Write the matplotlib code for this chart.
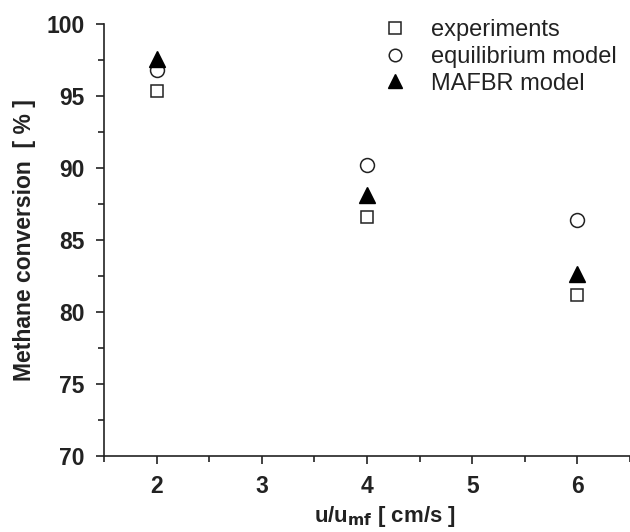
import matplotlib
matplotlib.use("Agg")
import matplotlib.pyplot as plt
from matplotlib.ticker import MultipleLocator

plt.rcParams['font.family'] = ['Liberation Sans', 'DejaVu Sans']

# velocity ratios and methane conversion (%)
u_ratio = [2, 4, 6]
experiments = [95.35, 86.6, 81.2]
equilibrium = [96.8, 90.2, 86.4]
mafbr = [97.55, 88.1, 82.6]

ink = "#222222"

fig = plt.figure(figsize=(6.3, 5.32), dpi=100)
ax = fig.add_axes([0.165, 0.143, 0.835, 0.812])

ax.plot(u_ratio, experiments, linestyle="none", marker="s", markersize=9,
        markerfacecolor="white", markeredgecolor=ink, markeredgewidth=1.1, label="experiments")
ax.plot(u_ratio, equilibrium, linestyle="none", marker="o", markersize=10,
        markerfacecolor="white", markeredgecolor=ink, markeredgewidth=1.1, label="equilibrium model")
ax.plot(u_ratio, mafbr, linestyle="none", marker="^", markersize=11.5,
        color="black", label="MAFBR model")

ax.set_xlim(1.5, 6.5)
ax.set_ylim(70, 100)
ax.xaxis.set_major_locator(MultipleLocator(1))
ax.xaxis.set_minor_locator(MultipleLocator(0.5))
ax.yaxis.set_major_locator(MultipleLocator(5))
ax.yaxis.set_minor_locator(MultipleLocator(2.5))

for side in ["top", "right"]:
    ax.spines[side].set_visible(False)
for side in ["left", "bottom"]:
    ax.spines[side].set_color(ink)
    ax.spines[side].set_linewidth(1.2)

ax.tick_params(which="major", direction="out", length=6, width=1.2, color=ink,
               labelsize=16.5, pad=8)
ax.tick_params(which="minor", direction="out", length=4, width=1.2, color=ink)
for lab in ax.get_xticklabels() + ax.get_yticklabels():
    lab.set_fontweight("bold")
    lab.set_color(ink)

ax.set_xlabel("u/u$_{\\mathbf{mf}}$ [ cm/s ]", fontsize=16, fontweight="bold", color=ink)
ax.xaxis.set_label_coords(0.535, -0.112)
ax.set_ylabel("Methane conversion  [ % ]", fontsize=16.5, fontweight="bold", color=ink)
ax.yaxis.set_label_coords(-0.13, 0.5)

leg = ax.legend(loc="upper left", bbox_to_anchor=(0.519, 1.011), frameon=False,
                fontsize=17, handletextpad=0.8, labelspacing=0.2, markerscale=0.9,
                handlelength=1.5, borderpad=0, borderaxespad=0)
for t in leg.get_texts():
    t.set_color(ink)

fig.savefig("out.png", dpi=100)
